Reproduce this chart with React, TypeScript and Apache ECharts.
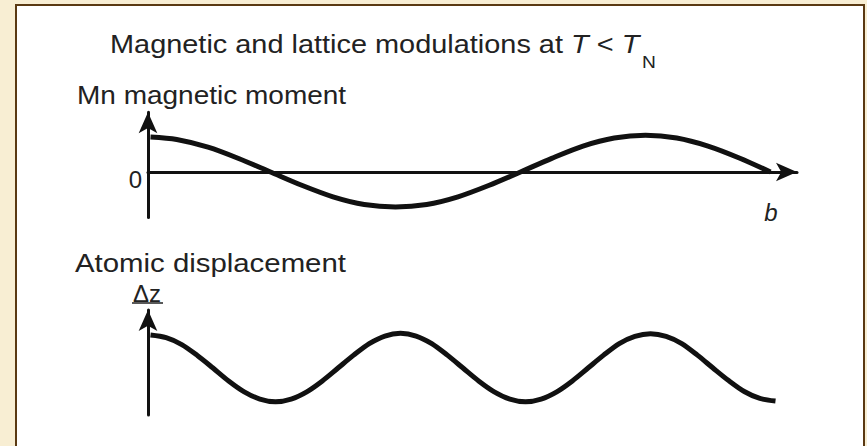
import React, { useEffect, useRef } from "react";
import * as echarts from "echarts";

// Mn magnetic moment (upper wave): positions along b (1 unit = quarter period) and amplitudes
const momentB = [
  0.02, 0.23, 0.48, 0.73, 0.98, 1.23, 1.48, 1.73, 1.98, 2.23, 2.48,
  2.73, 2.98, 3.23, 3.48, 3.73, 3.98, 4.23, 4.48, 4.73, 4.98,
];
const momentVal = [
  1.0, 0.93, 0.71, 0.38, 0, -0.38, -0.71, -0.93, -1.0, -0.93, -0.71,
  -0.38, 0, 0.39, 0.74, 0.97, 1.05, 0.97, 0.74, 0.4, 0,
];

// Atomic displacement Δz (lower wave): twice the frequency
const dispB = [
  0.02, 0.145, 0.27, 0.395, 0.52, 0.645, 0.77, 0.895, 1.02,
  1.145, 1.27, 1.395, 1.52, 1.645, 1.77, 1.895, 2.02,
  2.145, 2.27, 2.395, 2.52, 2.645, 2.77, 2.895, 3.02,
  3.145, 3.27, 3.395, 3.52, 3.645, 3.77, 3.895, 4.02,
  4.145, 4.27, 4.395, 4.52, 4.645, 4.77, 4.895, 5.02,
];
const dispVal = [
  1.0, 0.92, 0.71, 0.38, 0, -0.39, -0.72, -0.94, -1.02,
  -0.94, -0.72, -0.39, 0, 0.39, 0.74, 0.97, 1.05,
  0.97, 0.74, 0.39, 0, -0.39, -0.72, -0.94, -1.02,
  -0.94, -0.72, -0.39, 0, 0.39, 0.74, 0.96, 1.04,
  0.96, 0.74, 0.39, 0, -0.38, -0.71, -0.92, -1.0,
];

const yTickLabels = ["0"];

const FONT = "'Liberation Sans', Arial, Helvetica, sans-serif";
const INK = "#111";
const TEXT = "#222";

export default function App() {
  const ref = useRef<HTMLDivElement>(null);
  useEffect(() => {
    if (!ref.current) return;
    const chart = echarts.init(ref.current, null, { renderer: "svg" });
    const axisLine = {
      show: true,
      onZero: false,
      symbol: ["none", "arrow"],
      symbolSize: [14, 21],
      lineStyle: { color: INK, width: 3 },
    };
    const txt = (x: number, y: number, text: string, font: string, sx = 1, align = "left") => ({
      type: "text",
      x,
      y,
      scaleX: sx,
      style: {
        text,
        font,
        fill: TEXT,
        align,
        textAlign: align,
        verticalAlign: "middle",
        textVerticalAlign: "middle",
      },
    });
    chart.setOption({
      animation: false,
      backgroundColor: "#f8eed3",
      grid: [
        { left: 148, top: 112.15, width: 649, height: 105.35 },
        { left: 148, top: 310, width: 649, height: 104.9 },
      ],
      xAxis: [
        {
          gridIndex: 0,
          type: "value",
          min: 0,
          max: 5.192,
          axisLine: { ...axisLine, onZero: true },
          axisTick: { show: false },
          axisLabel: { show: false },
          splitLine: { show: false },
        },
        {
          gridIndex: 1,
          type: "value",
          min: 0,
          max: 5.192,
          show: false,
        },
      ],
      yAxis: [
        {
          gridIndex: 0,
          type: "value",
          min: -1.3,
          max: 1.71,
          axisLine,
          axisTick: { show: false },
          splitLine: { show: false },
          axisLabel: {
            formatter: (v: number) => (Math.abs(v) < 1e-9 ? `{z|${yTickLabels[0]}}` : ""),
            margin: 6,
            rich: {
              z: { fontSize: 24, fontFamily: FONT, color: TEXT, padding: [14, 0, 0, 0] },
            },
          },
        },
        {
          gridIndex: 1,
          type: "value",
          min: -1.42,
          max: 1.758,
          axisLine,
          axisTick: { show: false },
          splitLine: { show: false },
          axisLabel: { show: false },
        },
      ],
      series: [
        {
          type: "line",
          xAxisIndex: 0,
          yAxisIndex: 0,
          data: momentB.map((b, i) => [b, momentVal[i]]),
          smooth: 0.3,
          showSymbol: false,
          silent: true,
          lineStyle: { color: INK, width: 5 },
        },
        {
          type: "line",
          xAxisIndex: 1,
          yAxisIndex: 1,
          data: dispB.map((b, i) => [b, dispVal[i]]),
          smooth: 0.3,
          showSymbol: false,
          silent: true,
          lineStyle: { color: INK, width: 5 },
        },
      ],
      graphic: [
        {
          type: "rect",
          z: -10,
          shape: { x: 16, y: 5, width: 848, height: 470 },
          style: { fill: "#ffffff", stroke: "#5a3912", lineWidth: 2 },
        },
        {
          type: "text",
          x: 110,
          y: 45,
          scaleX: 1.156,
          style: {
            text: "{n|Magnetic and lattice modulations at }{i|T}{n| < }{i|T}",
            rich: {
              n: { fontSize: 25, fontFamily: FONT, fill: TEXT, color: TEXT },
              i: { fontSize: 25, fontFamily: FONT, fontStyle: "italic", fill: TEXT, color: TEXT },
            },
            align: "left",
            textAlign: "left",
            verticalAlign: "middle",
            textVerticalAlign: "middle",
          },
        },
        txt(642, 63, "N", `16px ${FONT}`, 1.2),
        txt(77, 96, "Mn magnetic moment", `25px ${FONT}`, 1.12),
        txt(75, 263, "Atomic displacement", `25px ${FONT}`, 1.175),
        txt(771, 212, "b", `italic 24px ${FONT}`, 1, "center"),
        txt(147, 293, "Δz", `24px ${FONT}`, 1, "center"),
        {
          type: "line",
          shape: { x1: 132, y1: 303, x2: 163, y2: 303 },
          style: { stroke: TEXT, lineWidth: 1.5 },
        },
      ],
    });
    return () => chart.dispose();
  }, []);
  return (
    <div
      ref={ref}
      style={{ position: "fixed", left: 0, top: 0, width: 867, height: 446 }}
    />
  );
}
